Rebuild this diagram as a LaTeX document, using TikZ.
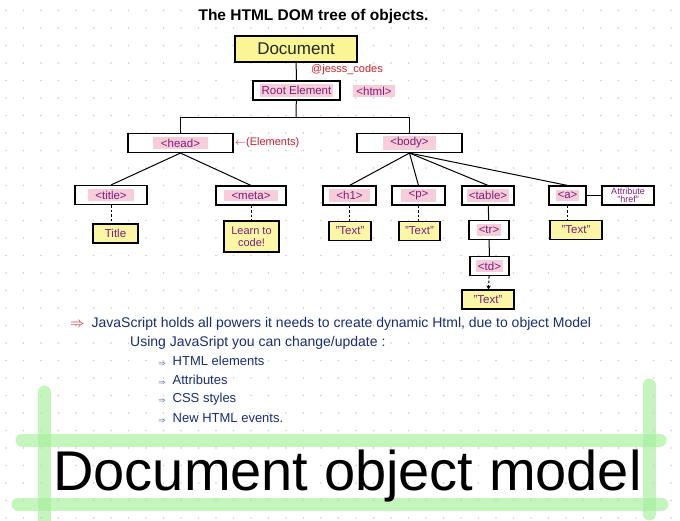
\documentclass[tikz,border=0pt]{standalone}
\usepackage{fontspec}
\setmainfont{Liberation Sans}
\usetikzlibrary{arrows.meta}
\definecolor{tagpurple}{RGB}{125,30,120}
\definecolor{hlpink}{RGB}{247,205,218}
\definecolor{hlyellow}{RGB}{250,246,150}
\definecolor{jsred}{RGB}{205,30,45}
\definecolor{noteblue}{RGB}{25,45,115}
\definecolor{hlgreen}{RGB}{165,240,155}
\definecolor{griddot}{RGB}{205,205,205}
\newcommand{\pinkhl}[1]{{\setlength{\fboxsep}{2pt}\colorbox{hlpink}{#1}}}
\tikzset{
  tagbox/.style={draw, line width=1.1pt, fill=white, inner sep=1pt, minimum height=19pt, text=tagpurple, font=\fontsize{11.5}{12}\selectfont},
  leafbox/.style={tagbox, fill=hlyellow!85},
  edge/.style={line width=1pt},
  dashedge/.style={line width=1pt, dash pattern=on 2.5pt off 2pt},
  hlband/.style={hlgreen, line width=13pt, line cap=round, opacity=0.65},
  note/.style={anchor=west, inner sep=0pt, text=noteblue, font=\fontsize{14}{15}\selectfont},
  redtext/.style={inner sep=0pt, text=jsred, font=\fontsize{11}{12}\selectfont}
}

\begin{document}
\begin{tikzpicture}[x=1pt, y=-1pt]
  \useasboundingbox (0,0) rectangle (680,520);
  \fill[white] (0,0) rectangle (680,520);
  % dotted paper
  \foreach \gx in {0,...,38}
    \foreach \gy in {0,...,29}
      \fill[griddot] (6+17.5*\gx, 10.5+17.5*\gy) circle (0.8pt);

  \node[font=\bfseries\fontsize{15.5}{17}\selectfont] (title) at (313.5,16) {The HTML DOM tree of objects.};

  % tree
  \node[tagbox, fill=hlyellow, minimum width=122pt, minimum height=26pt, text=black!85, font=\fontsize{17}{18}\selectfont] (doc) at (296,49) {Document};
  \node[redtext] (handle) at (347,70) {@jesss\_codes};
  \node[tagbox, minimum width=87pt] (root) at (296.5,90.5) {\pinkhl{Root Element}};
  \node[inner sep=0pt, text=tagpurple, font=\fontsize{11.5}{12}\selectfont] (html) at (374,91) {\pinkhl{\,<html>\,}};
  \coordinate (split) at (296,117);

  \node[tagbox, minimum width=105pt] (head) at (180.5,143) {\pinkhl{\enspace<head>\enspace}};
  \node[redtext, anchor=west] (elements) at (235,143) {$\leftarrow$(Elements)};
  \node[tagbox, minimum width=105pt] (body) at (409.5,143) {\pinkhl{\enspace<body>\enspace}};

  \node[tagbox, minimum width=72pt] (ttl) at (111,195) {\pinkhl{\enspace<title>\enspace}};
  \node[tagbox, minimum width=70pt] (meta) at (251,195.5) {\pinkhl{\enspace<meta>\enspace}};
  \node[tagbox, minimum width=53pt] (h1) at (349.5,195.5) {\pinkhl{\enspace<h1>\enspace}};
  \node[tagbox, minimum width=53pt] (par) at (418.5,195.5) {\pinkhl{\enspace<p>\enspace}};
  \node[tagbox, minimum width=52pt] (table) at (488,195.5) {\pinkhl{<table>}};
  \node[tagbox, minimum width=37pt] (anchr) at (567.5,195.5) {\pinkhl{<a>}};
  \node[tagbox, minimum width=52pt, align=center, font=\fontsize{9}{8.5}\selectfont] (attr) at (628,195.5) {Attribute\\"href"};

  \node[leafbox, minimum width=45pt] (ttltxt) at (115.5,233.5) {Title};
  \node[leafbox, minimum width=55pt, minimum height=31pt, align=center, font=\fontsize{11}{12}\selectfont] (learn) at (251.5,236.5) {Learn to\\code!};
  \node[leafbox, minimum width=42pt] (h1txt) at (350,231) {"Text"};
  \node[leafbox, minimum width=41pt] (partxt) at (419.5,231) {"Text"};
  \node[tagbox, minimum width=40pt] (tr) at (489,230) {\pinkhl{<tr>}};
  \node[leafbox, minimum width=52pt] (atxt) at (576,230) {"Text"};
  \node[tagbox, minimum width=39pt] (td) at (489.5,266) {\pinkhl{<td>}};
  \node[leafbox, minimum width=52pt] (tdtxt) at (488,299.5) {"Text"};

  \draw[edge] (doc) -- (root);
  \draw[edge] (root) -- (split);
  \draw[edge] (split) -| (head);
  \draw[edge] (split) -| (body);
  \foreach \kid in {ttl,meta}
    \draw[edge] (head.south) -- (\kid.north);
  \foreach \kid in {h1,par,table,anchr}
    \draw[edge] (body.south) -- (\kid.north);
  \draw[edge] (anchr) -- (attr);
  \draw[edge] (table) -- (tr);
  \draw[edge] (tr) -- (td);
  \foreach \a/\b in {ttl/ttltxt,meta/learn,h1/h1txt,par/partxt,anchr/atxt}
    \draw[dashedge] (\a.south) -- (\a.south |- \b.north);
  \draw[dashedge, -{Stealth[length=4pt,width=4.5pt]}] (td) -- (tdtxt);

  % notes
  \node[note] (line1) at (70,324) {\textcolor{jsred}{$\Rightarrow$}\enspace JavaScript holds all powers it needs to create dynamic Html, due to object Model};
  \node[note] (line2) at (130,343) {Using JavaSript you can change/update :};
  \foreach \txt [count=\i] in {HTML elements, Attributes, CSS styles, New HTML events.}
    \node[note, font=\fontsize{13}{14}\selectfont] (item\i) at (158,342+19*\i) {{\scriptsize$\Rightarrow$}\enspace \txt};

  % highlighter frame
  \draw[hlband] (22,440) -- (660,440);
  \draw[hlband] (18,504) -- (662,504);
  \draw[hlband] (44,392) -- (44,522);
  \draw[hlband] (649,385) -- (649,514);
  \node[anchor=base, inner sep=0pt, font=\fontsize{56}{60}\selectfont] (dom) at (347.5,490) {Document object model};
\end{tikzpicture}
\end{document}
